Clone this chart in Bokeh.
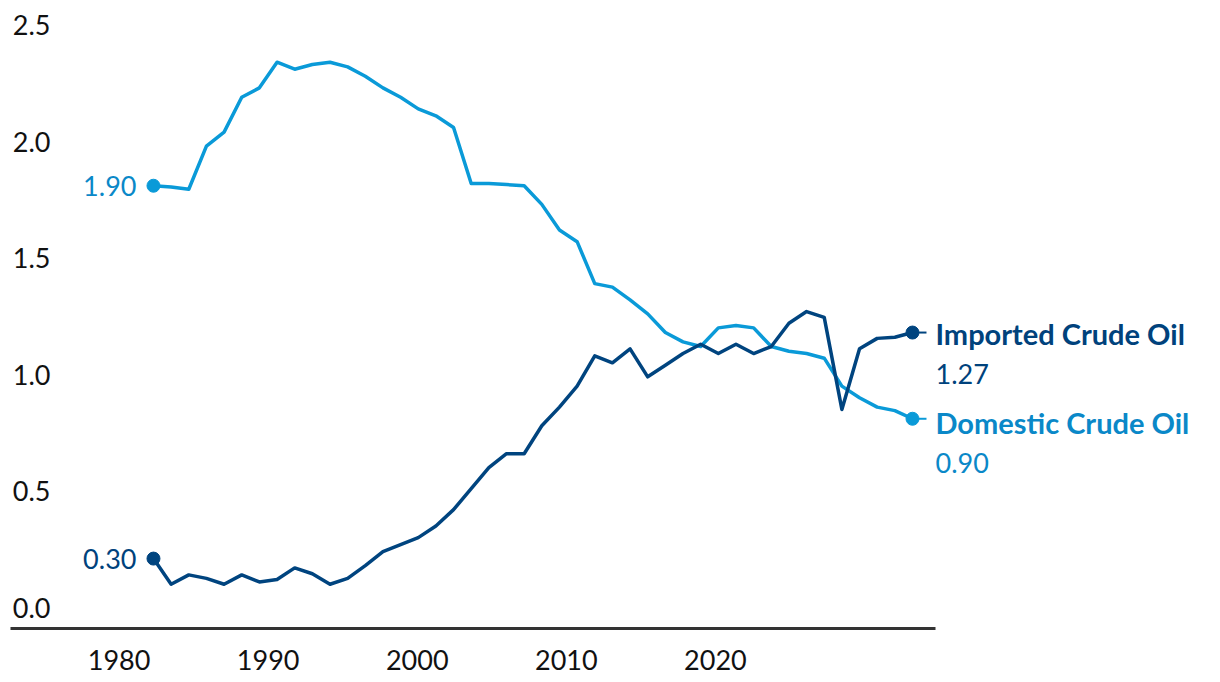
from bokeh.plotting import figure
from bokeh.models import Range1d, LinearAxis, ColumnDataSource, LabelSet, FixedTicker, PrintfTickFormatter
from bokeh.core.properties import value, field
from bokeh.embed import file_html
from bokeh.resources import INLINE

years = list(range(1982, 2026))
domestic = [1.90, 1.895, 1.885, 2.07, 2.13, 2.28, 2.32, 2.43, 2.40, 2.42,
            2.43, 2.41, 2.37, 2.32, 2.28, 2.23, 2.20, 2.15, 1.91, 1.91,
            1.905, 1.90, 1.82, 1.71, 1.66, 1.48, 1.465, 1.41, 1.35, 1.27,
            1.23, 1.21, 1.29, 1.30, 1.29, 1.21, 1.19, 1.18, 1.16, 1.04,
            0.99, 0.95, 0.935, 0.90]
imported = [0.30, 0.19, 0.23, 0.215, 0.19, 0.23, 0.20, 0.21, 0.26, 0.235,
            0.19, 0.215, 0.27, 0.33, 0.36, 0.39, 0.44, 0.51, 0.60, 0.69,
            0.75, 0.75, 0.87, 0.95, 1.04, 1.17, 1.14, 1.20, 1.08, 1.13,
            1.18, 1.22, 1.18, 1.22, 1.18, 1.21, 1.31, 1.36, 1.335, 0.94,
            1.20, 1.245, 1.25, 1.27]
series_names = ["Imported Crude Oil", "Domestic Crude Oil"]
x_tick_labels = [1980, 1990, 2000, 2010, 2020]
y_ticks = [0.0, 0.5, 1.0, 1.5, 2.0, 2.5]

C_DOM = "#0A9AD8"
C_IMP = "#00447F"
T_DOM = "#0A88C8"
T_IMP = "#00427C"
FONT = "Lato"

p = figure(frame_width=1195, frame_height=618,
           x_range=Range1d(1973.90, 2041.60), y_range=Range1d(0, 2.652),
           x_axis_location=None, y_axis_location=None,
           output_backend="svg", toolbar_location=None,
           min_border_top=10, min_border_left=10, min_border_right=5, min_border_bottom=54)
p.outline_line_color = None
p.grid.visible = False
p.background_fill_color = "white"
p.border_fill_color = "white"

p.extra_x_ranges = {"lab": Range1d(1972.72, 2052.87)}
p.extra_y_ranges = {"lab": Range1d(-0.088, 2.564)}

xaxis = LinearAxis(x_range_name="lab", ticker=FixedTicker(ticks=x_tick_labels),
                   bounds=(1972.72, 2034.76))
xaxis.axis_line_color = "#333333"
xaxis.axis_line_width = 3
xaxis.major_tick_line_color = None
xaxis.minor_tick_line_color = None
xaxis.major_tick_out = 0
xaxis.major_tick_in = 0
xaxis.major_label_standoff = 21
xaxis.major_label_text_font = FONT
xaxis.major_label_text_font_size = "27px"
xaxis.major_label_text_color = "#111111"
p.add_layout(xaxis, "below")

yaxis = LinearAxis(y_range_name="lab", ticker=FixedTicker(ticks=y_ticks),
                   formatter=PrintfTickFormatter(format="%.1f"))
yaxis.axis_line_color = None
yaxis.major_tick_line_color = None
yaxis.minor_tick_line_color = None
yaxis.major_tick_out = 0
yaxis.major_tick_in = 0
yaxis.major_label_standoff = -40
yaxis.major_label_text_font = FONT
yaxis.major_label_text_font_size = "27px"
yaxis.major_label_text_color = "#111111"
p.add_layout(yaxis, "left")

src = ColumnDataSource(dict(year=years, dom=domestic, imp=imported))
p.line("year", "dom", source=src, line_color=C_DOM, line_width=3.5, line_join="round")
p.line("year", "imp", source=src, line_color=C_IMP, line_width=3.5, line_join="round")

ends = ColumnDataSource(dict(
    x0=[years[0], years[0]], y0=[imported[0], domestic[0]],
    x1=[years[-1], years[-1]], y1=[imported[-1], domestic[-1]],
    name=series_names,
    v0=[f"{imported[0]:.2f}", f"{domestic[0]:.2f}"],
    v1=[f"{imported[-1]:.2f}", f"{domestic[-1]:.2f}"],
    name_dy=[-1, -4], val_dy=[-41, -44],
    color=[C_IMP, C_DOM], tcolor=[T_IMP, T_DOM]))

p.ray("x1", "y1", source=ends, length=14, length_units="screen", angle=0,
      line_width=2, line_color="color")
p.scatter("x0", "y0", source=ends, size=13, color="color")
p.scatter("x1", "y1", source=ends, size=13, color="color")

p.add_layout(LabelSet(x="x0", y="y0", text="v0", source=ends, x_offset=-17,
                      text_align="right", text_baseline="middle",
                      text_font=value(FONT), text_font_size=value("27px"),
                      text_color=field("tcolor")))
p.add_layout(LabelSet(x="x1", y="y1", text="name", source=ends, x_offset=23, y_offset=field("name_dy"),
                      text_align="left", text_baseline="middle",
                      text_font=value(FONT), text_font_size=value("29px"), text_font_style="bold",
                      text_color=field("tcolor")))
p.add_layout(LabelSet(x="x1", y="y1", text="v1", source=ends, x_offset=23, y_offset=field("val_dy"),
                      text_align="left", text_baseline="middle",
                      text_font=value(FONT), text_font_size=value("27px"),
                      text_color=field("tcolor")))

open("out.html", "w").write(file_html(p, INLINE))
